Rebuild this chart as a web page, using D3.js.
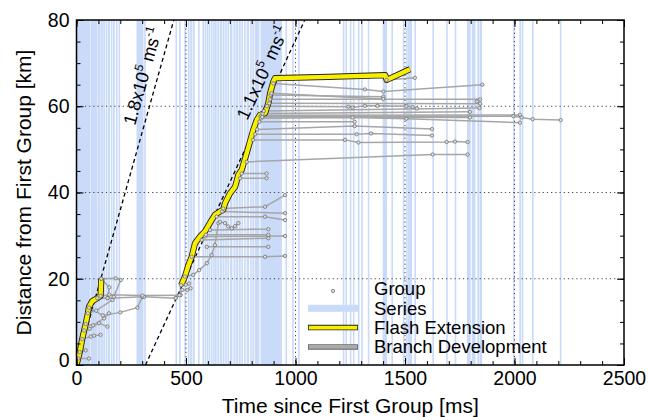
<!DOCTYPE html>
<html>
<head>
<meta charset="utf-8">
<script src="https://cdn.jsdelivr.net/npm/d3@7"></script>
<style>
  body { margin: 0; background: #fff; }
  text { font-family: "Liberation Sans", Arial, Helvetica, sans-serif; }
</style>
</head>
<body>
<div id="chart"></div>
<script>
// ---- data ----
var xMajor = [0, 500, 1000, 1500, 2000, 2500];
var yMajor = [0, 20, 40, 60, 80];

// series intervals [start, end] in ms
var series = [
  [0, 62], [64, 96], [98, 110], [112, 120], [122, 131], [134, 141], [144, 153],
  [157, 163], [167, 175], [180, 187], [192, 198],
  [274, 306], [309, 314],
  [452, 458], [468, 476], [492, 500], [508, 516], [519, 527], [530, 540], [555, 562],
  [575, 582], [585, 592], [595, 600], [604, 611], [614, 621], [624, 629], [632, 640],
  [643, 652], [655, 664], [667, 676], [679, 685], [689, 697], [701, 712], [717, 726],
  [729, 738], [741, 750], [753, 760], [765, 772], [777, 788], [793, 800], [803, 812],
  [815, 835], [840, 938], [954, 960], [985, 988], [1012, 1016],
  [1216, 1222], [1228, 1234], [1248, 1251], [1262, 1266], [1285, 1289], [1300, 1304],
  [1330, 1334], [1398, 1418], [1438, 1441], [1490, 1494], [1505, 1510], [1514, 1532],
  [1543, 1547], [1625, 1629], [1688, 1692], [1727, 1731], [1783, 1800], [1805, 1822],
  [1830, 1840], [1842, 1852], [1993, 1998], [2022, 2030], [2033, 2040], [2080, 2084],
  [2207, 2211]
];

// flash extension paths [ms, km]
var flashEarly = [[0, 0], [15, 3], [26, 6], [35, 8], [42, 9.5], [52, 12], [57, 13.5],
  [72, 14.8], [95, 15.5], [110, 16], [113, 20]];
var flashMain = [[478, 18.5], [495, 20.5], [510, 23], [526, 25.1], [541, 28.2], [564, 29.8],
  [587, 31], [617, 33.6], [632, 34.8], [655, 35.6], [670, 36], [678, 37.5], [701, 39.8],
  [724, 41.3], [739, 44.1], [754, 45.2], [777, 49.1], [792, 51.8], [807, 54.5], [823, 56.8],
  [838, 58], [861, 58.4], [876, 60.7], [884, 63], [899, 65.7], [906, 66.5], [1150, 66.8],
  [1410, 67.2], [1416, 66.1], [1523, 68.6]];

// branch development paths [ms, km]
var branches = [
  [[8, 1.5], [57, 1.5]],
  [[15, 3], [42, 3.4]],
  [[26, 6], [65, 6.6], [80, 6.8], [110, 7]],
  [[35, 8], [60, 8.4], [103, 9.7], [141, 8.9]],
  [[42, 9.5], [75, 9.2], [126, 10.8], [148, 12]],
  [[52, 12], [90, 12.6], [164, 15.1]],
  [[57, 13.3], [120, 11.5], [200, 12.2], [278, 13.3], [301, 15.8]],
  [[95, 15.5], [141, 15.5], [308, 15.8], [453, 15.5]],
  [[110, 16], [150, 16.3], [301, 16.1], [476, 16.2]],
  [[113, 20], [179, 20.1], [202, 19.7], [170, 15.8]],
  [[113, 20], [150, 18], [141, 15.5]],
  [[453, 15.5], [470, 16.2], [483, 17.4], [506, 17.4], [521, 17.8]],
  [[478, 18.5], [499, 18.6], [514, 18.9]],
  [[495, 20.5], [533, 20.9], [560, 22], [595, 23.6], [617, 25.5], [632, 27.8], [648, 32.9],
   [655, 33.2], [678, 32.9], [693, 32.1], [709, 31.7], [724, 32.2], [739, 32.9]],
  [[526, 25.1], [861, 25.1], [952, 25.3]],
  [[595, 27.4], [876, 27.4]],
  [[572, 29.0], [876, 29.4]],
  [[587, 29.8], [952, 29.9]],
  [[590, 30.2], [876, 30.2]],
  [[610, 31.3], [876, 31.5]],
  [[640, 34.4], [861, 34.4], [952, 33.6]],
  [[665, 35.6], [952, 35.2]],
  [[670, 36.3], [861, 36.7], [952, 39.4]],
  [[747, 43.3], [868, 43.3]],
  [[754, 44.4], [868, 44.4]],
  [[777, 47.1], [1626, 48.8], [1786, 48.8]],
  [[806, 52.2], [1226, 52.2], [1287, 51.6], [1690, 51.7], [1728, 51.8], [1786, 51.7]],
  [[815, 53.5], [1279, 53.5], [1345, 53.7], [1623, 53.2]],
  [[825, 54.6], [1270, 55.4], [1623, 54.7]],
  [[835, 56.4], [1270, 56.4]],
  [[840, 57.6], [1995, 57.7], [2033, 57.4], [2083, 57.0], [2211, 56.8]],
  [[845, 57.9], [2025, 58.0]],
  [[842, 57.2], [1260, 57.4], [1506, 57.1], [2025, 56.2]],
  [[850, 58.3], [1797, 58.7]],
  [[848, 57.5], [1797, 57.4]],
  [[855, 58.9], [1840, 59.6]],
  [[870, 60.0], [1241, 59.9], [1260, 59.7], [1317, 60.1], [1374, 60.1], [1506, 60.0],
   [1535, 59.8], [1554, 59.5]],
  [[880, 60.7], [1843, 60.6], [1828, 61.1]],
  [[884, 61.6], [1843, 61.6]],
  [[886, 62.6], [1401, 62.2]],
  [[890, 63.0], [1401, 61.7]],
  [[899, 65.3], [1317, 63.9], [1401, 63.4], [1853, 65.0]],
  [[1416, 66.1], [1545, 66.6]]
];

// propagation speed guides
var speedStart = [0, 315];        // ms at 0 km
var speedValue = [0.18, 0.11];    // km/ms
var speedMantissa = ["1.8", "1.1"];
var speedAnchor = [55.4, 56.6];   // km where the label starts
var speedGap = [9, 11];           // px left of the line

var legendNames = ["Group", "Series", "Flash Extension", "Branch Development"];

// ---- layout ----
var margin = { top: 20, right: 24, bottom: 52, left: 76.5 },
    width  = 648 - margin.left - margin.right,
    height = 417 - margin.top - margin.bottom;

var svg = d3.select('#chart').append('svg')
    .attr('width', 648)
    .attr('height', 417);

var plot = svg.append('g')
    .attr('transform', 'translate(' + margin.left + ',' + margin.top + ')');

var x = d3.scaleLinear().domain([0, 2500]).range([0, width]);
var y = d3.scaleLinear().domain([0, 80]).range([height, 0]);

plot.append('clipPath').attr('id', 'clip')
  .append('rect').attr('width', width).attr('height', height);

var inner = plot.append('g').attr('clip-path', 'url(#clip)');

var bandColor = '#cadaf9';

// series bands
inner.selectAll('.series')
    .data(series)
    .enter()
    .append('rect')
      .attr('class', 'series')
      .attr('x', d => x(d[0]))
      .attr('width', d => Math.max(1.6, x(d[1]) - x(d[0])))
      .attr('y', 0)
      .attr('height', height)
      .attr('fill', bandColor);

// dotted grid
inner.selectAll('.gx')
    .data(xMajor.slice(1, -1))
    .enter()
    .append('line')
      .attr('x1', d => x(d)).attr('x2', d => x(d))
      .attr('y1', 0).attr('y2', height)
      .attr('stroke', '#444').attr('stroke-width', 1)
      .attr('stroke-dasharray', '1.2,3');

inner.selectAll('.gy')
    .data(yMajor.slice(1, -1))
    .enter()
    .append('line')
      .attr('y1', d => y(d)).attr('y2', d => y(d))
      .attr('x1', 0).attr('x2', width)
      .attr('stroke', '#444').attr('stroke-width', 1)
      .attr('stroke-dasharray', '1.2,3');

// speed guides
speedStart.forEach(function (t0, i) {
    var v = speedValue[i];
    inner.append('line')
        .attr('x1', x(t0)).attr('y1', y(0))
        .attr('x2', x(t0 + 80 / v)).attr('y2', y(80))
        .attr('stroke', '#000')
        .attr('stroke-width', 1.3)
        .attr('stroke-dasharray', '4,3');
});

// branches
var line = d3.line().x(d => x(d[0])).y(d => y(d[1]));

inner.selectAll('.branch')
    .data(branches)
    .enter()
    .append('path')
      .attr('class', 'branch')
      .attr('d', line)
      .attr('fill', 'none')
      .attr('stroke', '#a6a6a6')
      .attr('stroke-width', 1.5);

// flash extension (outlined yellow)
[flashEarly, flashMain].forEach(function (p) {
    inner.append('path')
        .attr('d', line(p))
        .attr('fill', 'none')
        .attr('stroke', '#222')
        .attr('stroke-width', 6.2)
        .attr('stroke-linejoin', 'round');
    inner.append('path')
        .attr('d', line(p))
        .attr('fill', 'none')
        .attr('stroke', '#f8ee00')
        .attr('stroke-width', 4.4)
        .attr('stroke-linejoin', 'round');
});

// group markers
var groups = [];
branches.forEach(b => b.forEach(p => groups.push(p)));

inner.selectAll('.group')
    .data(groups)
    .enter()
    .append('circle')
      .attr('class', 'group')
      .attr('cx', d => x(d[0]))
      .attr('cy', d => y(d[1]))
      .attr('r', 1.7)
      .attr('fill', '#ddd')
      .attr('stroke', '#666')
      .attr('stroke-width', 0.7);

// speed labels
speedStart.forEach(function (t0, i) {
    var v = speedValue[i];
    var ang = Math.atan2(y(80) - y(0), x(t0 + 80 / v) - x(t0)) * 180 / Math.PI;
    var d0 = speedAnchor[i];
    var px = x(t0 + d0 / v) - speedGap[i], py = y(d0);
    var t = plot.append('text')
        .attr('transform', 'translate(' + px + ',' + py + ') rotate(' + ang + ')')
        .attr('font-size', 18);
    t.append('tspan').text(speedMantissa[i] + 'x10');
    t.append('tspan').attr('dy', -8).attr('font-size', 12).text('5');
    t.append('tspan').attr('dy', 8).attr('dx', 5).text('ms');
    t.append('tspan').attr('dy', -8).attr('font-size', 12).text('-1');
});

// axes (inward ticks)
function styleAxis(g) {
    g.select('.domain').remove();
    g.selectAll('.tick line').attr('stroke', '#000').attr('stroke-width', 1);
    g.selectAll('text').attr('font-size', 19.5).attr('fill', '#000')
        .attr('font-family', '"Liberation Sans", Arial, sans-serif');
}

plot.append('g').attr('transform', 'translate(0,' + height + ')')
    .call(d3.axisBottom(x).tickValues(d3.range(0, 2501, 100)).tickSize(-4).tickFormat(''))
    .call(styleAxis);
plot.append('g').attr('transform', 'translate(0,' + height + ')')
    .call(d3.axisBottom(x).tickValues(xMajor).tickSize(-7).tickPadding(6).tickFormat(d3.format('d')))
    .call(styleAxis);
plot.append('g')
    .call(d3.axisTop(x).tickValues(d3.range(0, 2501, 100)).tickSize(-4).tickFormat(''))
    .call(styleAxis);
plot.append('g')
    .call(d3.axisTop(x).tickValues(xMajor).tickSize(-7).tickFormat(''))
    .call(styleAxis);

plot.append('g')
    .call(d3.axisLeft(y).tickValues(d3.range(0, 81, 5)).tickSize(-4).tickFormat(''))
    .call(styleAxis);
var yAx = plot.append('g')
    .call(d3.axisLeft(y).tickValues(yMajor).tickSize(-7).tickPadding(7).tickFormat(d3.format('d')))
    .call(styleAxis);
yAx.selectAll('.tick').filter(d => d === 0).select('text').attr('dy', '0.1em');

plot.append('g').attr('transform', 'translate(' + width + ',0)')
    .call(d3.axisRight(y).tickValues(d3.range(0, 81, 5)).tickSize(-4).tickFormat(''))
    .call(styleAxis);
plot.append('g').attr('transform', 'translate(' + width + ',0)')
    .call(d3.axisRight(y).tickValues(yMajor).tickSize(-7).tickFormat(''))
    .call(styleAxis);

// frame
plot.append('rect')
    .attr('width', width).attr('height', height)
    .attr('fill', 'none').attr('stroke', '#000').attr('stroke-width', 1.5);

// axis titles
svg.append('text')
    .attr('x', margin.left + width / 2)
    .attr('y', 413)
    .attr('text-anchor', 'middle')
    .attr('font-size', 21)
    .text('Time since First Group [ms]');

svg.append('text')
    .attr('transform', 'translate(31,' + (margin.top + height / 2) + ') rotate(-90)')
    .attr('text-anchor', 'middle')
    .attr('font-size', 21)
    .text('Distance from First Group [km]');

// legend
var legend = svg.append('g').attr('transform', 'translate(308,289)');
var rowH = 19.3;

legend.append('circle')
    .attr('cx', 25).attr('cy', 2).attr('r', 1.7)
    .attr('fill', '#ddd').attr('stroke', '#666').attr('stroke-width', 0.7);
legend.append('rect')
    .attr('x', 0).attr('y', rowH - 3.5).attr('width', 50).attr('height', 7)
    .attr('fill', bandColor);
legend.append('line')
    .attr('x1', 0).attr('x2', 50).attr('y1', rowH * 2).attr('y2', rowH * 2)
    .attr('stroke', '#222').attr('stroke-width', 5.5);
legend.append('line')
    .attr('x1', 0.8).attr('x2', 49.2).attr('y1', rowH * 2).attr('y2', rowH * 2)
    .attr('stroke', '#f8ee00').attr('stroke-width', 3.6);
legend.append('line')
    .attr('x1', 0).attr('x2', 50).attr('y1', rowH * 3).attr('y2', rowH * 3)
    .attr('stroke', '#666').attr('stroke-width', 5.5);
legend.append('line')
    .attr('x1', 0.8).attr('x2', 49.2).attr('y1', rowH * 3).attr('y2', rowH * 3)
    .attr('stroke', '#aaa').attr('stroke-width', 3.6);

legend.selectAll('.lt')
    .data(legendNames)
    .enter()
    .append('text')
      .attr('x', 66)
      .attr('y', (d, i) => i * rowH)
      .attr('dy', '0.35em')
      .attr('font-size', 18.5)
      .text(d => d);
</script>
</body>
</html>
